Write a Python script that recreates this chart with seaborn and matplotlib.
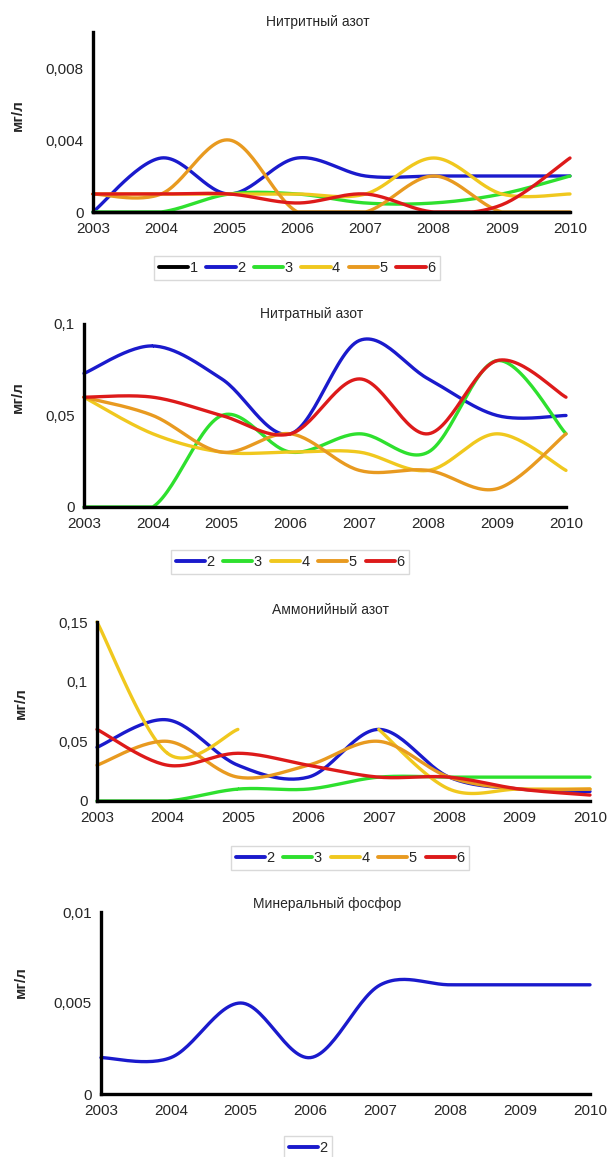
import numpy as np
import pandas as pd
import seaborn as sns
import matplotlib
matplotlib.use("Agg")
import matplotlib.pyplot as plt

sns.set_theme(style="white")
plt.rcParams['font.family'] = ['Liberation Sans', 'DejaVu Sans']

years = [2003, 2004, 2005, 2006, 2007, 2008, 2009, 2010]
nan = np.nan

# Нитритный азот
nitrite = {
    '1': [0, 0, 0, 0, 0, 0, 0, 0],
    '2': [0, 0.003, 0.001, 0.003, 0.002, 0.002, 0.002, 0.002],
    '3': [0, 0, 0.001, 0.001, 0.0005, 0.0005, 0.001, 0.002],
    '4': [0.001, 0.001, 0.001, 0.001, 0.001, 0.003, 0.001, 0.001],
    '5': [0.001, 0.001, 0.004, 0, 0, 0.002, 0, 0],
    '6': [0.001, 0.001, 0.001, 0.0005, 0.001, 0, 0.0004, 0.003],
}
# Нитратный азот
nitrate = {
    '2': [0.073, 0.088, 0.07, 0.04, 0.091, 0.07, 0.05, 0.05],
    '3': [0, 0, 0.05, 0.03, 0.04, 0.03, 0.08, 0.04],
    '4': [0.06, 0.04, 0.03, 0.03, 0.03, 0.02, 0.04, 0.02],
    '5': [0.06, 0.05, 0.03, 0.04, 0.02, 0.02, 0.01, 0.04],
    '6': [0.06, 0.06, 0.05, 0.04, 0.07, 0.04, 0.08, 0.06],
}
# Аммонийный азот
ammonium = {
    '2': [0.045, 0.068, 0.03, 0.02, 0.06, 0.02, 0.01, 0.008],
    '3': [0, 0, 0.01, 0.01, 0.02, 0.02, 0.02, 0.02],
    '4': [0.15, 0.04, 0.06, nan, 0.06, 0.01, 0.01, 0.01],
    '5': [0.03, 0.05, 0.02, 0.03, 0.05, 0.02, 0.01, 0.01],
    '6': [0.06, 0.03, 0.04, 0.03, 0.02, 0.02, 0.01, 0.005],
}
# Минеральный фосфор
phosphorus = {
    '2': [0.002, 0.002, 0.005, 0.002, 0.006, 0.006, 0.006, 0.006],
}

titles = ['Нитритный азот', 'Нитратный азот', 'Аммонийный азот',
          'Минеральный фосфор']
yticks = [[0, 0.004, 0.008], [0, 0.05, 0.1], [0, 0.05, 0.1, 0.15],
          [0, 0.005, 0.01]]
yticklabels = [['0', '0,004', '0,008'], ['0', '0,05', '0,1'],
               ['0', '0,05', '0,1', '0,15'], ['0', '0,005', '0,01']]
ymax = [0.01, 0.1, 0.15, 0.01]

colors = {'1': '#000000', '2': '#1a1acc', '3': '#2ee02e',
          '4': '#f0c81e', '5': '#e89a20', '6': '#dd1a1a'}


def smooth(x, y, n=30):
    # catmull-rom curve, like the excel "smoothed line"
    x = np.asarray(x, float)
    y = np.asarray(y, float)
    px = np.concatenate([[x[0]], x, [x[-1]]])
    py = np.concatenate([[y[0]], y, [y[-1]]])
    t = np.linspace(0, 1, n)
    xs, ys = [], []
    for i in range(1, len(x)):
        for p, out in ((px, xs), (py, ys)):
            p0, p1, p2, p3 = p[i - 1], p[i], p[i + 1], p[i + 2]
            out.append(0.5 * (2 * p1 + (-p0 + p2) * t
                              + (2 * p0 - 5 * p1 + 4 * p2 - p3) * t ** 2
                              + (-p0 + 3 * p1 - 3 * p2 + p3) * t ** 3))
    return np.concatenate(xs), np.concatenate(ys)


W, H = 608, 1157
fig = plt.figure(figsize=(W / 100, H / 100), dpi=100)

# axes boxes in pixels: left, right, top, bottom
boxes = [(93, 570, 32, 212), (84, 566, 324, 507),
         (97, 590, 622, 801), (101, 590, 912, 1094)]
title_pos = [(318, 22), (312, 314), (330, 610), (327, 904)]
ylab_pos = [(18, 115), (18, 397), (21, 703), (21, 982)]
leg_pos = [(297, 268), (290, 562), (350, 858), (308, 1148)]

datasets = [nitrite, nitrate, ammonium, phosphorus]

for k, data in enumerate(datasets):
    l, r, t, b = boxes[k]
    ax = fig.add_axes([l / W, 1 - b / H, (r - l) / W, (b - t) / H])
    for name, vals in data.items():
        vals = np.asarray(vals, float)
        yrs = np.asarray(years, float)
        ok = ~np.isnan(vals)
        # split into runs without gaps
        runs, cur = [], []
        for i in range(len(vals)):
            if ok[i]:
                cur.append(i)
            elif cur:
                runs.append(cur)
                cur = []
        if cur:
            runs.append(cur)
        first = True
        for run in runs:
            xs, ys = smooth(yrs[run], vals[run])
            ys = np.clip(ys, 0, ymax[k])
            sns.lineplot(x=xs, y=ys, ax=ax, color=colors[name], lw=2.4,
                         sort=False, estimator=None, clip_on=False,
                         label=name if first else None, legend=False)
            first = False

    ax.set_xlim(2003, 2010)
    ax.set_ylim(0, ymax[k])
    ax.set_xticks(years)
    ax.set_xticklabels([str(y) for y in years], fontsize=11)
    ax.set_yticks(yticks[k])
    ax.set_yticklabels(yticklabels[k], fontsize=11)
    ax.tick_params(axis='both', direction='inout', length=5, width=2,
                   color='black', pad=4)
    ax.tick_params(axis='x', pad=5)
    sns.despine(ax=ax)
    for s in ('left', 'bottom'):
        ax.spines[s].set_linewidth(2.4)
        ax.spines[s].set_color('black')
    ax.set_xlabel('')
    ax.set_ylabel('')

    fig.text(title_pos[k][0] / W, 1 - title_pos[k][1] / H, titles[k],
             ha='center', va='center', fontsize=10)
    fig.text(ylab_pos[k][0] / W, 1 - ylab_pos[k][1] / H, 'мг/л',
             ha='center', va='center', rotation=90, fontsize=11,
             fontweight='bold')

    handles, labels = ax.get_legend_handles_labels()
    leg = fig.legend(handles, labels, loc='center',
                     bbox_to_anchor=(leg_pos[k][0] / W, 1 - leg_pos[k][1] / H),
                     ncol=len(labels), frameon=True, fancybox=False,
                     fontsize=10.5, handlelength=2.0, handletextpad=0.1,
                     columnspacing=0.6, borderpad=0.35, edgecolor='#d0d0d0')
    leg.get_frame().set_linewidth(1.0)
    for line in leg.get_lines():
        line.set_linewidth(2.8)

fig.savefig('out.png', dpi=100)
